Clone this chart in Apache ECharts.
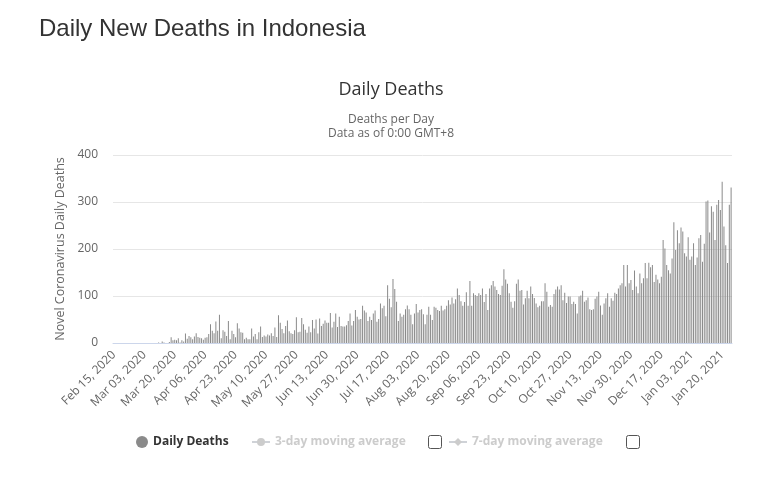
<!DOCTYPE html>
<html>
<head>
<meta charset="utf-8">
<script src="https://cdn.jsdelivr.net/npm/echarts@6/dist/echarts.min.js"></script>
<style>
html,body{margin:0;padding:0;background:#fff;}
#chart{width:769px;height:485px;}
</style>
</head>
<body>
<div id="chart"></div>
<script>
// ---- data (daily deaths, Feb 15 2020 .. Jan 25 2021) ----
const startDate = [2020, 1, 15]; // year, monthIndex(0-based), day
const monthNames = ['Jan','Feb','Mar','Apr','May','Jun','Jul','Aug','Sep','Oct','Nov','Dec'];

const feb2020 = [0,0,0,0,0,0,0,0,0,0,0,0,0,0,0];
const mar2020 = [0,0,0,0,0,0,0,0,0,0,1,0,3,1,0,0,2,12,6,7,6,10,1,6,3,20,9,15,12,8,14];
const apr2020 = [21,13,11,10,7,11,12,19,40,26,21,46,26,60,10,27,24,15,47,8,26,19,12,42,31,23,22,8,11,8];
const may2020 = [8,31,14,19,8,23,35,13,16,14,18,16,21,15,33,13,59,43,30,21,36,48,25,21,19,27,55,23,24,53,40];
const jun2020 = [28,22,35,23,49,31,50,20,52,36,41,48,43,43,64,33,45,63,34,56,36,35,35,38,47,63,37,47,70,56];
const jul2020 = [50,51,79,69,65,47,56,49,63,69,45,51,84,74,79,57,123,94,76,136,115,88,47,63,56,60,72,80,72,60,40];
const aug2020 = [63,83,65,70,72,61,40,60,77,60,49,77,75,70,68,79,69,72,79,91,82,97,84,93,116,102,89,79,87,108,79];
const sep2020 = [132,79,106,102,100,106,102,116,87,104,70,116,123,132,120,113,104,102,122,157,135,126,106,88,75,89,126,135,111,113];
const oct2020 = [82,95,111,95,120,104,96,84,76,79,89,89,127,109,77,81,77,104,114,120,114,123,91,107,85,99,99,83,88,83,63];
const nov2020 = [99,101,111,88,91,97,72,70,72,94,99,109,80,60,84,95,106,77,95,90,107,104,116,123,127,166,120,166,127,134];
const dec2020 = [113,154,120,106,148,127,138,170,138,171,161,166,130,145,135,127,141,219,201,166,155,148,180,257,198,240,212,246,237,191,184];
const jan2021 = [225,177,184,212,166,182,223,230,173,211,301,303,235,291,279,219,294,304,283,343,248,208,170,294,331];

const dailyDeaths = [].concat(feb2020, mar2020, apr2020, may2020, jun2020, jul2020,
  aug2020, sep2020, oct2020, nov2020, dec2020, jan2021);

const yTicks = [0, 100, 200, 300, 400];

// category labels: one per day
const categories = [];
(function(){
  const d = new Date(Date.UTC(startDate[0], startDate[1], startDate[2]));
  for (let i = 0; i < dailyDeaths.length; i++) {
    const dd = String(d.getUTCDate()).padStart(2, '0');
    categories.push(monthNames[d.getUTCMonth()] + ' ' + dd + ', ' + d.getUTCFullYear());
    d.setUTCDate(d.getUTCDate() + 1);
  }
})();

const chart = echarts.init(document.getElementById('chart'), null, {renderer: 'canvas'});
const labelFont = '"Open Sans", "DejaVu Sans", sans-serif';

function txt(text, x, y, size, color, family, align) {
  return { type: 'text', x: x, y: y, silent: true,
    style: { text: text, font: size + 'px ' + family, fill: color,
      align: align || 'center', verticalAlign: 'middle',
      textAlign: align || 'center', textVerticalAlign: 'middle' } };
}

chart.setOption({
  animation: false,
  backgroundColor: '#ffffff',
  grid: { left: 113, right: 37, top: 155, bottom: 142, containLabel: false },
  legend: [
    { data: [{name: 'Daily Deaths', icon: 'circle'}], left: 131, top: 431, itemWidth: 12, itemHeight: 12,
      textStyle: { fontFamily: labelFont, fontSize: 12, fontWeight: 'bold', color: '#333333' }, inactiveColor: '#cccccc' },
    { data: ['3-day moving average'], left: 246, top: 431, itemWidth: 18, itemHeight: 10,
      selected: {'3-day moving average': false},
      textStyle: { fontFamily: labelFont, fontSize: 12, fontWeight: 'bold', color: '#333333' }, inactiveColor: '#cccccc' },
    { data: ['7-day moving average'], left: 443, top: 431, itemWidth: 18, itemHeight: 10,
      selected: {'7-day moving average': false},
      textStyle: { fontFamily: labelFont, fontSize: 12, fontWeight: 'bold', color: '#333333' }, inactiveColor: '#cccccc' }
  ],
  graphic: [
    txt('Daily New Deaths in Indonesia', 39, 29, 24, '#333333', '"Liberation Sans", Arial, sans-serif', 'left'),
    txt('Daily Deaths', 391, 90, 18, '#333333', labelFont),
    txt('Deaths per Day', 391, 120, 12, '#666666', labelFont),
    txt('Data as of 0:00 GMT+8', 391, 134, 12, '#666666', labelFont),
    { type: 'rect', left: 428, top: 435, shape: { width: 13, height: 13, r: 2 },
      style: { fill: '#ffffff', stroke: '#555555', lineWidth: 1 } },
    { type: 'rect', left: 626, top: 435, shape: { width: 13, height: 13, r: 2 },
      style: { fill: '#ffffff', stroke: '#555555', lineWidth: 1 } }
  ],
  xAxis: {
    type: 'category',
    data: categories,
    boundaryGap: true,
    axisLine: { lineStyle: { color: '#ccd6eb' } },
    axisTick: { show: false },
    axisLabel: {
      interval: 16, rotate: 45, margin: 10,
      fontFamily: labelFont, fontSize: 12, color: '#666666'
    }
  },
  yAxis: {
    type: 'value', min: yTicks[0], max: yTicks[yTicks.length - 1], interval: 100,
    name: 'Novel Coronavirus Daily Deaths', nameLocation: 'middle', nameGap: 41,
    nameTextStyle: { fontFamily: labelFont, fontSize: 12.5, color: '#666666' },
    axisLine: { show: false }, axisTick: { show: false },
    axisLabel: { margin: 15, fontFamily: labelFont, fontSize: 12, color: '#666666' },
    splitLine: { lineStyle: { color: '#e6e6e6' } }
  },
  series: [
    { name: 'Daily Deaths', type: 'bar', data: dailyDeaths, barWidth: 1,
      itemStyle: { color: '#8a8a8a' } },
    { name: '3-day moving average', type: 'line', data: [], symbol: 'circle', symbolSize: 7,
      itemStyle: { color: '#cccccc' }, lineStyle: { color: '#cccccc' } },
    { name: '7-day moving average', type: 'line', data: [], symbol: 'diamond', symbolSize: 8,
      itemStyle: { color: '#cccccc' }, lineStyle: { color: '#cccccc' } }
  ]
});
</script>
</body>
</html>
